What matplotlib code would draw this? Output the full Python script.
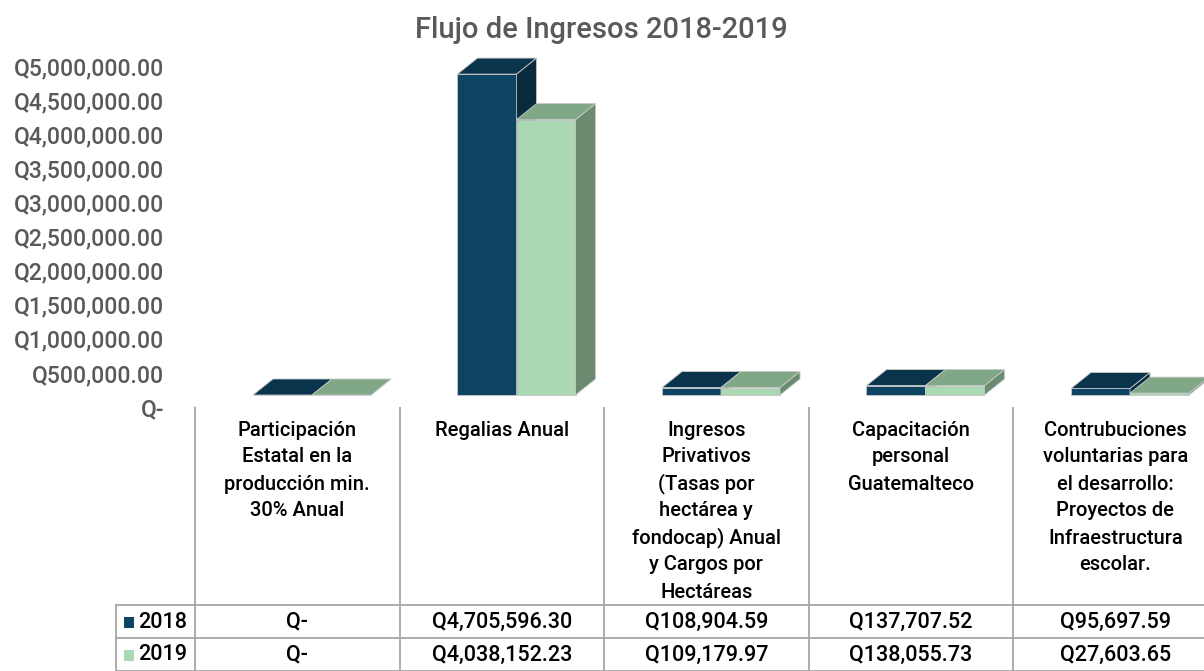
import matplotlib
matplotlib.use("Agg")
import matplotlib.pyplot as plt
from matplotlib.patches import Polygon, Rectangle

plt.rcParams['font.family'] = ['Roboto', 'DejaVu Sans']
plt.rcParams['font.weight'] = 'medium'

# data
categories = [
    "Participación\nEstatal en la\nproducción min.\n30% Anual",
    "Regalias Anual",
    "Ingresos\nPrivativos\n(Tasas por\nhectárea y\nfondocap) Anual\ny Cargos por\nHectáreas",
    "Capacitación\npersonal\nGuatemalteco",
    "Contrubuciones\nvoluntarias para\nel desarrollo:\nProyectos de\nInfraestructura\nescolar.",
]
series_names = ["2018", "2019"]
values_2018 = [0, 4705596.30, 108904.59, 137707.52, 95697.59]
values_2019 = [0, 4038152.23, 109179.97, 138055.73, 27603.65]
y_ticks = [0, 500000, 1000000, 1500000, 2000000, 2500000,
           3000000, 3500000, 4000000, 4500000, 5000000]

front_colors = ["#0e4463", "#a9d8b3"]
top_colors = ["#0a344b", "#80a887"]
side_colors = ["#082b3e", "#6b8b70"]


def qfmt(v):
    return "Q-" if v == 0 else "Q{:,.2f}".format(v)


W, H = 1204, 671
fig = plt.figure(figsize=(W / 100, H / 100), dpi=100)

# layout in pixels
col_x0 = 195
col_w = 204.5
plot_top, plot_bottom = 66, 407

ax = fig.add_axes([col_x0 / W, 1 - plot_bottom / H, (W - col_x0) / W,
                   (plot_bottom - plot_top) / H])
ax.set_xlim(0, (W - col_x0) / col_w)
ax.set_ylim(0, 5000000)
for s in ax.spines.values():
    s.set_visible(False)
ax.set_xticks([])
ax.set_yticks(y_ticks)
ax.set_yticklabels([qfmt(v) for v in y_ticks])
ax.tick_params(axis='y', length=0, pad=22, labelsize=16.5, labelcolor='#595959')

# pseudo 3D bars
px_y = 5000000 / (plot_bottom - plot_top)   # data units per pixel
base = 12 * px_y
dx = 20 / col_w
dy = 16 * px_y
bw = 59 / col_w
off = 58 / col_w

for j, vals in enumerate([values_2018, values_2019]):
    for i, v in enumerate(vals):
        x0 = i + off + j * bw
        top = base + v
        front = [(x0, base), (x0 + bw, base), (x0 + bw, top), (x0, top)]
        lid = [(x0, top), (x0 + bw, top), (x0 + bw + dx, top + dy), (x0 + dx, top + dy)]
        side = [(x0 + bw, base), (x0 + bw + dx, base + dy),
                (x0 + bw + dx, top + dy), (x0 + bw, top)]
        for pts, c in [(front, front_colors[j]), (side, side_colors[j]), (lid, top_colors[j])]:
            ax.add_patch(Polygon(pts, closed=True, facecolor=c, edgecolor='#c8c8c8',
                                 linewidth=0.6, clip_on=False))

# title
fig.text(601 / W, 1 - 30 / H, "Flujo de Ingresos 2018-2019", ha='center', va='center',
         fontsize=21, color='#595959')

# data table
tab = fig.add_axes([0, 0, 1, 1], zorder=-1)
tab.set_xlim(0, W)
tab.set_ylim(H, 0)
tab.axis('off')

line_c = '#a6a6a6'
row_tops = [605, 638, 671]
n = len(categories)
for k in range(n + 1):
    x = col_x0 + k * col_w
    tab.plot([x, x], [407, 671], color=line_c, lw=1.3)
tab.plot([116, 116], [605, 671], color=line_c, lw=1.3)
for y in row_tops:
    tab.plot([116, W], [y, y], color=line_c, lw=1.3)

for i, cat in enumerate(categories):
    cx = col_x0 + (i + 0.5) * col_w
    for k, line in enumerate(cat.split("\n")):
        tab.text(cx, 430 + 27 * k, line, ha='center', va='center', fontsize=14.5,
                 color='black')

for r, (name, vals) in enumerate(zip(series_names, [values_2018, values_2019])):
    cy = 622 + 33 * r
    tab.add_patch(Rectangle((124, cy - 5.5), 10, 11, facecolor=front_colors[r],
                            edgecolor='none'))
    tab.text(138, cy, name, ha='left', va='center', fontsize=15.5, color='black')
    for i, v in enumerate(vals):
        cx = col_x0 + (i + 0.5) * col_w
        tab.text(cx, cy, qfmt(v), ha='center', va='center', fontsize=15.5, color='black')

fig.savefig("out.png", dpi=100)
